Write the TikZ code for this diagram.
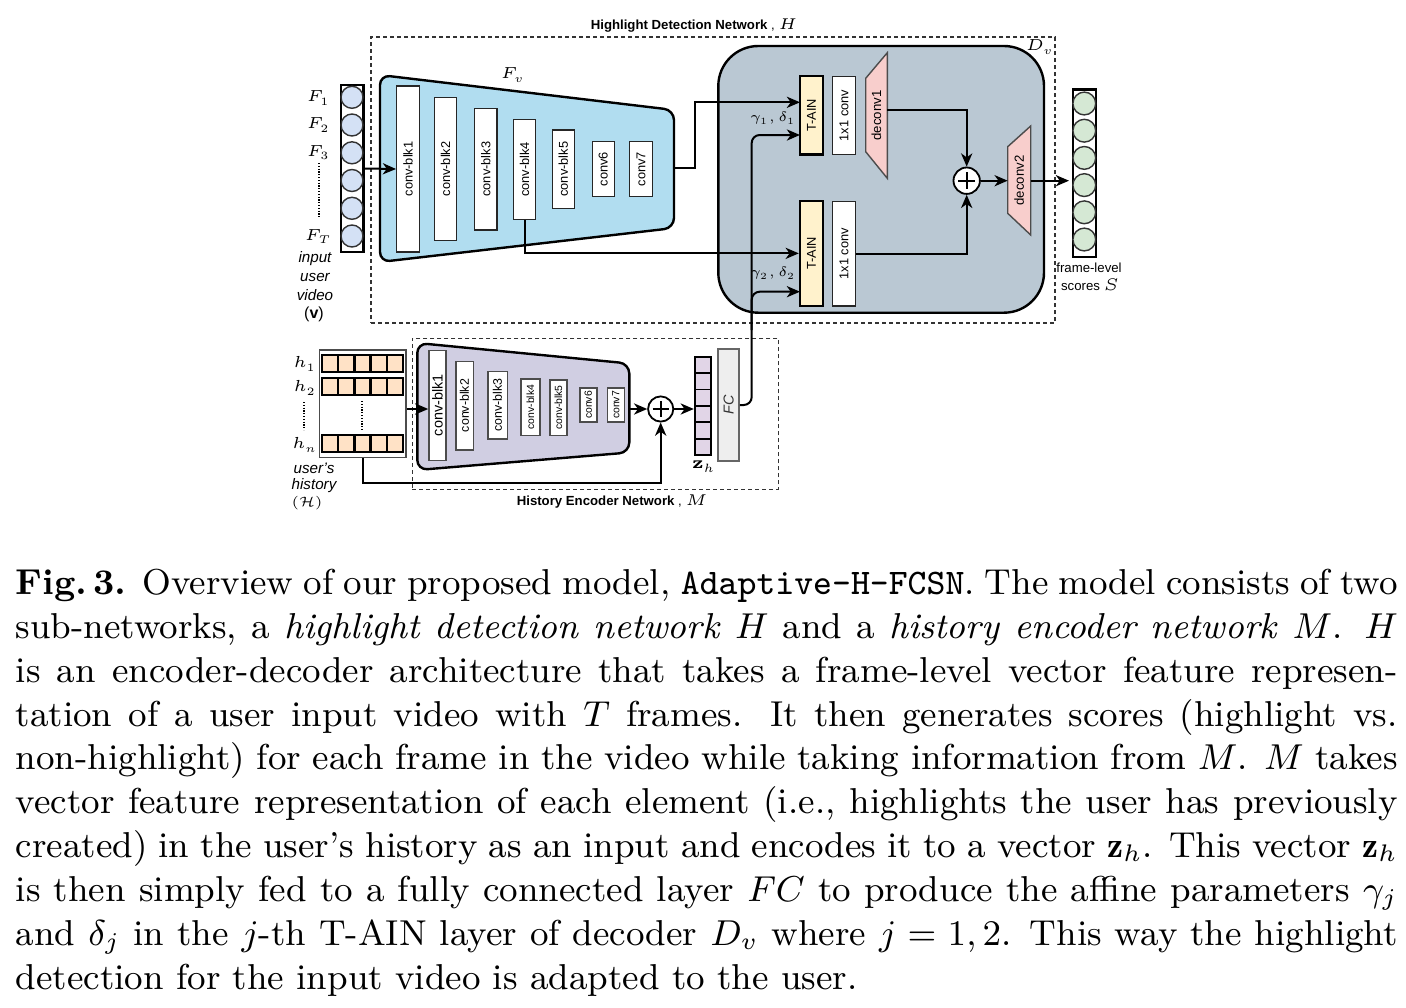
\RequirePackage{fix-cm}
\documentclass[tikz,border=0pt]{standalone}
\usepackage{fontspec}
\setsansfont{Liberation Sans}
\usetikzlibrary{arrows.meta,fit,calc}
\definecolor{encblue}{HTML}{B1DDF0}
\definecolor{vinc}{HTML}{D4E1F5}
\definecolor{dvc}{HTML}{BAC8D3}
\definecolor{tainc}{HTML}{FFF2CC}
\definecolor{decc}{HTML}{F8CECC}
\definecolor{outc}{HTML}{D5E8D4}
\definecolor{histc}{HTML}{FFE2C6}
\definecolor{encm}{HTML}{D0CEE2}
\definecolor{zhc}{HTML}{E1D5E7}
\definecolor{fcc}{HTML}{EEEEEE}
\newcommand\fs[1]{\fontsize{#1}{#1}\selectfont\sffamily}
\newcommand\rbox[6]{\node[#1, fit={#3 #4}] (#2) {};\node[rotate=90, inner sep=0pt, font=#5] (#2-t) at (#2.center) {#6};}
\newcommand\capline[3]{\node[anchor=base west, inner sep=0pt, font=\fontsize{9}{11}\selectfont] (#1) at (15,#2) {\hbox to 345.5pt{#3}};}
\begin{document}
\begin{tikzpicture}[x=0.25pt,y=-0.25pt,
  dbox/.style={draw=black!80, line width=0.3pt, dash pattern=on 1pt off 0.75pt, inner sep=0pt},
  blk/.style={draw=black!85, line width=0.35pt, fill=white, inner sep=0pt},
  hblk/.style={draw=black!70, line width=0.4pt, fill=white, inner sep=0pt},
  tain/.style={draw=black, line width=0.6pt, fill=tainc, inner sep=0pt},
  colbox/.style={draw=black, line width=0.6pt, fill=white, inner sep=0pt},
  vcirc/.style={circle, draw=black!80, line width=0.35pt, fill=vinc, minimum size=5.5pt, inner sep=0pt},
  ocirc/.style={circle, draw=black!80, line width=0.35pt, fill=outc, minimum size=5.7pt, inner sep=0pt},
  encshape/.style={draw=black, line width=0.6pt, rounded corners=2.5pt},
  decstyle/.style={draw=black!70, line width=0.35pt, fill=decc},
  dvstyle/.style={draw=black, line width=0.6pt, fill=dvc, rounded corners=10pt, inner sep=0pt},
  pluscirc/.style={circle, draw=black, line width=0.45pt, fill=white, inner sep=0pt},
  pl/.style={line width=0.4pt},
  arr/.style={line width=0.5pt, -{Stealth[length=3.3pt,width=2.8pt,inset=1pt]}},
  mlbl/.style={inner sep=0pt, font=\fontsize{4}{4.4}\selectfont},
  ilbl/.style={inner sep=0pt, font=\fontsize{3.8}{4.5}\selectfont\sffamily\itshape},
  dotline/.style={line width=0.55pt, dash pattern=on 0.3pt off 0.4pt},
  hsq/.style={draw=black, line width=0.55pt, fill=histc},
  fcst/.style={draw=black!60, line width=0.45pt, fill=fcc, inner sep=0pt}
]
\useasboundingbox (0,0) rectangle (1406,1008);
\fill[white] (0,0) rectangle (1406,1008);

% ===== dashed network boxes =====
\node[dbox, fit={(371,37) (1055,323)}] (Hbox) {};
\node[dbox, fit={(412.3,338.3) (778.3,489.3)}] (Mbox) {};
\node[anchor=base west, inner sep=0pt, font=\fs{3.3}] (Htitle) at (590,29.3) {{\bfseries Highlight Detection Network} , {\fontsize{3.9}{4}\selectfont$H$}};
\node[anchor=base west, inner sep=0pt, font=\fs{3.3}] (Mtitle) at (516,505) {{\bfseries History Encoder Network} , {\fontsize{3.9}{4}\selectfont$M$}};

% ===== input video =====
\node[colbox, fit={(340.7,85) (363.3,252)}] (vin) {};
\foreach \y [count=\i] in {97.3,125,152.8,180.5,208.3,236}
  \node[vcirc] (vc\i) at (352,\y) {};
\node[mlbl] (F1) at (318.5,98) {$F_1$};
\node[mlbl] (F2) at (318.5,125) {$F_2$};
\node[mlbl] (F3) at (318.5,152.7) {$F_3$};
\node[mlbl] (FT) at (318.5,236.7) {$F_T$};
\draw[dotline] (319,163) -- (319,218);
\node[ilbl] (in1) at (315,259) {input};
\node[ilbl] (in2) at (315,277) {user};
\node[ilbl] (in3) at (315,295) {video};
\node[inner sep=0pt, font=\fontsize{4}{4.5}\selectfont\sffamily] (in4) at (314,314) {(\textbf{v})};

% ===== encoder F_v =====
\draw[encshape, fill=encblue] (380,75) -- (674,110) -- (674,228) -- (380,262) -- cycle;
\node[mlbl] (Fv) at (513,75) {$F_v$};
\rbox{blk}{eb1}{(396.7,86)}{(419.3,252)}{\fs{3.2}}{conv-blk1}
\rbox{blk}{eb2}{(434.3,97.3)}{(456.7,240.7)}{\fs{3.2}}{conv-blk2}
\rbox{blk}{eb3}{(474.7,108.3)}{(497,230)}{\fs{3.2}}{conv-blk3}
\rbox{blk}{eb4}{(513.3,119.3)}{(535.7,219.3)}{\fs{3.2}}{conv-blk4}
\rbox{blk}{eb5}{(552.3,130)}{(574.3,208.3)}{\fs{3.2}}{conv-blk5}
\rbox{blk}{eb6}{(592.3,141.7)}{(614.3,196.7)}{\fs{3.2}}{conv6}
\rbox{blk}{eb7}{(629.7,141.7)}{(652.3,196.7)}{\fs{3.2}}{conv7}
\coordinate (encR) at (674,168);

% ===== decoder D_v =====
\node[dvstyle, fit={(718.3,46) (1044,312.7)}] (dv) {};
\node[mlbl] (dvl) at (1040,47) {$D_v$};
\rbox{tain}{ta1}{(800,76)}{(822.7,154.3)}{\fs{3.2}}{T-AIN}
\rbox{blk}{cv1}{(832.7,76.7)}{(855.3,154.3)}{\fs{3.2}}{1x1 conv}
\rbox{tain}{ta2}{(800,200.7)}{(822.7,306)}{\fs{3.2}}{T-AIN}
\rbox{blk}{cv2}{(832.7,201.3)}{(855.3,306)}{\fs{3.2}}{1x1 conv}
\draw[decstyle] (865.7,78.3) -- (887.3,52.7) -- (887.3,178.3) -- (865.7,151.7) -- cycle;
\node[rotate=90, inner sep=0pt, font=\fs{3.3}] (dc1) at (876.5,115.5) {deconv1};
\coordinate (dc1R) at (887.3,110);
\draw[decstyle] (1007.7,146.7) -- (1030.7,126) -- (1030.7,235) -- (1007.7,213.3) -- cycle;
\node[rotate=90, inner sep=0pt, font=\fs{3.3}] (dc2) at (1019.2,180.5) {deconv2};
\coordinate (dc2L) at (1007.7,180.7);
\coordinate (dc2R) at (1030.7,180.7);
\node[pluscirc, minimum size=6.6pt] (p1) at (966.7,180.7) {};
\draw[pl] ($(p1)+(-8.5,0)$) -- ($(p1)+(8.5,0)$);
\draw[pl] ($(p1)+(0,-8.5)$) -- ($(p1)+(0,8.5)$);
\node[inner sep=0pt, font=\fontsize{3.4}{3.6}\selectfont] (g1) at (773,118.3) {$\gamma_1,\delta_1$};
\node[inner sep=0pt, font=\fontsize{3.4}{3.6}\selectfont] (g2) at (773,273.3) {$\gamma_2,\delta_2$};

% ===== output scores =====
\node[colbox, fit={(1072.7,89.3) (1096,256.7)}] (vout) {};
\foreach \y [count=\i] in {103.5,130.7,157.9,185.1,212.3,239.5}
  \node[ocirc] (oc\i) at (1084.3,\y) {};
\node[inner sep=0pt, font=\fs{3.3}] (out1) at (1089,267.5) {frame-level};
\node[inner sep=0pt, font=\fs{3.3}] (out2) at (1090,285) {scores {\fontsize{4.2}{4.4}\selectfont$S$}};
\coordinate (voutin) at (1069,180.7);

% ===== history =====
\node[draw=black!70, line width=0.4pt, fill=white, inner sep=0pt, fit={(319.5,350) (405.7,457.3)}] (hfr) {};
\foreach \yy in {355,378.3,435}
  \foreach \k in {0,...,4}
    \draw[hsq] (322.3+16.08*\k,\yy) rectangle ++(16.08,16.7);
\node[mlbl] (h1) at (305,364) {$h_1$};
\node[mlbl] (h2) at (305,388) {$h_2$};
\node[mlbl] (hn) at (305,445) {$h_n$};
\draw[dotline] (304,402) -- (304,430);
\draw[dotline] (361.7,401) -- (361.7,430);
\node[ilbl] (us1) at (314,468.3) {user's};
\node[ilbl] (us2) at (314,485.5) {history};
\node[inner sep=0pt, font=\fontsize{3.4}{3.6}\selectfont] (us3) at (307,503.3) {$(\mathcal{H})$};

% history encoder M
\draw[encshape, fill=encm] (417.3,343) -- (629.3,363.5) -- (629.3,452.5) -- (417.3,470) -- cycle;
\rbox{hblk}{hb1}{(429,350.3)}{(446,460.3)}{\fs{3.6}}{conv-blk1}
\rbox{hblk}{hb2}{(455.7,361.3)}{(473.3,449.7)}{\fs{3.1}}{conv-blk2}
\rbox{hblk}{hb3}{(487.7,371.3)}{(507.3,438.7)}{\fs{3.1}}{conv-blk3}
\rbox{hblk}{hb4}{(521,378.7)}{(540,435.3)}{\fs{2.6}}{conv-blk4}
\rbox{hblk}{hb5}{(550,379.7)}{(566.7,435.3)}{\fs{2.6}}{conv-blk5}
\rbox{hblk}{hb6}{(580,388)}{(596.7,422)}{\fs{2.6}}{conv6}
\rbox{hblk}{hb7}{(607.3,388)}{(624.3,422)}{\fs{2.6}}{conv7}
\coordinate (enc2R) at (629.3,409);
\node[pluscirc, minimum size=6.3pt] (p2) at (660.7,409) {};
\draw[pl] ($(p2)+(-8,0)$) -- ($(p2)+(8,0)$);
\draw[pl] ($(p2)+(0,-8)$) -- ($(p2)+(0,8)$);

% z_h
\node[draw=black, line width=0.6pt, fill=zhc, inner sep=0pt, fit={(695,356.7) (711,455)}] (zh) {};
\foreach \k in {1,...,5}
  \draw[line width=0.45pt] (695,356.7+16.38*\k) -- (711,356.7+16.38*\k);
\node[inner sep=0pt, font=\fontsize{4.3}{4.5}\selectfont] (zhl) at (704,466.7) {$\textbf{z}_h$};
\rbox{fcst}{fc}{(718.3,349.3)}{(739,460.7)}{\fs{3.6}\itshape\color{black!80}}{FC}

% ===== connectors =====
\coordinate (j1) at (695,102.3);
\coordinate (ta1in) at (800,102.3);
\draw[arr] (vin.east) -- (eb1.west);
\draw[arr] (encR) -| (j1) -- (ta1in);
\draw[arr] (eb4.south) |- (ta2.west);
\coordinate (fcv1) at (751.7,135);
\coordinate (ta1g) at (800,135);
\coordinate (fcv2) at (751.7,330);
\coordinate (ta2g) at (800,291.7);
\draw[arr, rounded corners=2pt] (fc.east) -| (fcv1) -- (ta1g);
\draw[arr, rounded corners=2pt] (fcv2) |- (ta2g);
\draw[arr] (dc1R) -| (p1.north);
\draw[arr] (cv2.east) -| (p1.south);
\draw[arr] (p1.east) -- (dc2L);
\draw[arr] (dc2R) -- (voutin);
\draw[arr] (hfr.east |- p2) -- (hb1.west |- p2);
\draw[arr] (enc2R) -- (p2.west);
\coordinate (hturn) at (362.6,482.7);
\draw[arr] (hfr.south) -- (hturn) -| (p2.south);
\draw[arr] (p2.east) -- (zh.west |- p2);

% ===== caption =====
\capline{c1}{594.3}{{\bfseries Fig.\,3.} Overview of our proposed model, \texttt{Adaptive-H-FCSN}. The model consists of two}
\capline{c2}{638.2}{sub-networks, a \textit{highlight detection network} $H$ and a \textit{history encoder network} $M$. $H$}
\capline{c3}{682.1}{is an encoder-decoder architecture that takes a frame-level vector feature represen-}
\capline{c4}{726}{tation of a user input video with $T$ frames. It then generates scores (highlight vs.}
\capline{c5}{769.9}{non-highlight) for each frame in the video while taking information from $M$. $M$ takes}
\capline{c6}{813.8}{vector feature representation of each element (i.e., highlights the user has previously}
\capline{c7}{857.7}{created) in the user's history as an input and encodes it to a vector $\mathbf{z}_h$. This vector $\mathbf{z}_h$}
\capline{c8}{901.6}{is then simply fed to a fully connected layer $FC$ to produce the affine parameters $\gamma_j$}
\capline{c9}{945.5}{and $\delta_j$ in the $j$-th T-AIN layer of decoder $D_v$ where $j=1,2$. This way the highlight}
\node[anchor=base west, inner sep=0pt, font=\fontsize{9}{11}\selectfont] (c10) at (15,989.4) {detection for the input video is adapted to the user.};
\end{tikzpicture}
\end{document}
